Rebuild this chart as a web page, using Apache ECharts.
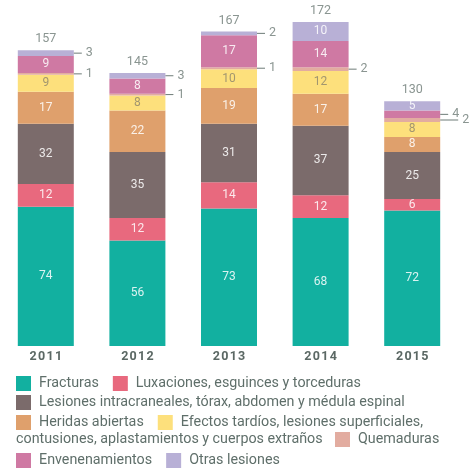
<!DOCTYPE html>
<html>
<head>
<meta charset="utf-8">
<script src="https://cdn.jsdelivr.net/npm/echarts@6/dist/echarts.min.js"></script>
<style>
  html, body { margin: 0; padding: 0; background: #ffffff; }
  #chart { width: 471px; height: 471px; }
</style>
</head>
<body>
<div id="chart"></div>
<script>
// Years on the category axis
const years = ['2011', '2012', '2013', '2014', '2015'];

// Injury counts per year, one array per category (bottom to top of each stack)
const fracturas       = [74, 56, 73, 68, 72];
const luxaciones      = [12, 12, 14, 12, 6];
const lesionesIntra   = [32, 35, 31, 37, 25];
const heridas         = [17, 22, 19, 17, 8];
const efectos         = [9, 8, 10, 12, 8];
const quemaduras      = [1, 1, 1, 2, 2];
const envenenamientos = [9, 8, 17, 14, 4];
const otras           = [3, 3, 2, 10, 5];

// Category names as shown in the legend
const nFracturas = 'Fracturas';
const nLuxaciones = 'Luxaciones, esguinces y torceduras';
const nLesiones = 'Lesiones intracraneales, tórax, abdomen y médula espinal';
const nHeridas = 'Heridas abiertas';
const efectosLinea1 = 'Efectos tardíos, lesiones superficiales,';
const efectosLinea2 = 'contusiones, aplastamientos y cuerpos extraños';
const nEfectos = efectosLinea1 + ' ' + efectosLinea2;
const nQuemaduras = 'Quemaduras';
const nEnvenenamientos = 'Envenenamientos';
const nOtras = 'Otras lesiones';

const FONT = 'Roboto';
const LEGEND_SIZE = 14.3;
const SMALL_LIMIT = 4; // segments this small get their value outside the bar

const stackDefs = [
  { name: nFracturas, data: fracturas, color: '#12b0a0', text: 'rgba(255,255,255,0.85)' },
  { name: nLuxaciones, data: luxaciones, color: '#e8697e', text: 'rgba(255,255,255,0.85)' },
  { name: nLesiones, data: lesionesIntra, color: '#7b6b6b', text: 'rgba(255,255,255,0.85)' },
  { name: nHeridas, data: heridas, color: '#dfa06c', text: 'rgba(255,255,255,0.85)' },
  { name: nEfectos, data: efectos, color: '#fde07c', text: '#a2966f' },
  { name: nQuemaduras, data: quemaduras, color: '#e2aca0', text: 'rgba(255,255,255,0.85)' },
  { name: nEnvenenamientos, data: envenenamientos, color: '#cf79a3', text: 'rgba(255,255,255,0.85)' },
  { name: nOtras, data: otras, color: '#b8b0d6', text: 'rgba(255,255,255,0.85)' }
];

const totals = years.map((_, i) => stackDefs.reduce((s, d) => s + d.data[i], 0));

const outsideRich = {
  l: { width: 8, height: 1, backgroundColor: '#6d7b77' },
  ll: { width: 18, height: 1, backgroundColor: '#6d7b77' },
  v: { padding: [0, 0, 0, 4], color: '#8a9591', fontSize: 12.5, fontFamily: FONT }
};

function buildData(def, si) {
  return def.data.map((v, i) => {
    if (v > SMALL_LIMIT) return v;
    // a longer leader when the segment right above is also labelled outside
    const above = stackDefs[si + 1];
    const longLead = above && above.data[i] <= SMALL_LIMIT;
    return {
      value: v,
      label: {
        position: 'right',
        distance: 0,
        formatter: (longLead ? '{ll|}' : '{l|}') + '{v|' + v + '}',
        rich: outsideRich
      }
    };
  });
}

const barSeries = stackDefs.map((def, si) => ({
  name: def.name,
  type: 'bar',
  stack: 'total',
  barWidth: 56,
  itemStyle: { color: def.color },
  label: {
    show: true,
    position: 'inside',
    color: def.text,
    fontSize: 12,
    fontFamily: FONT
  },
  data: buildData(def, si)
}));

// invisible line carrying the yearly totals above each stack
const totalSeries = {
  name: 'Total',
  type: 'line',
  data: totals,
  symbol: 'circle',
  symbolSize: 1,
  showSymbol: true,
  itemStyle: { color: 'rgba(0,0,0,0)' },
  lineStyle: { width: 0, color: 'rgba(0,0,0,0)' },
  silent: true,
  label: {
    show: true,
    position: 'top',
    distance: 4,
    color: '#8a9591',
    fontSize: 12.5,
    fontFamily: FONT
  },
  z: 5
};

const legendBase = {
  icon: 'rect',
  itemWidth: 15,
  itemHeight: 15,
  itemGap: 14,
  selectedMode: false,
  padding: 0,
  textStyle: { color: '#5f6f6a', fontSize: LEGEND_SIZE, fontFamily: FONT, padding: [0, 0, 0, 3] }
};

const chart = echarts.init(document.getElementById('chart'), null, { renderer: 'canvas' });
chart.setOption({
  animation: false,
  backgroundColor: '#ffffff',
  grid: { left: -2, right: 13, top: 7, bottom: 125, containLabel: false },
  xAxis: {
    type: 'category',
    data: years,
    axisLine: { show: false },
    axisTick: { show: false },
    axisLabel: {
      margin: 4,
      color: '#5b6864',
      fontSize: 12.5,
      fontWeight: 'bold',
      fontFamily: FONT,
      // spread the digits a little
      formatter: v => v.split('').join('\u200A')
    }
  },
  yAxis: { type: 'value', min: 0, max: 180, show: false },
  legend: [
    Object.assign({}, legendBase, { left: 16, top: 376, data: [nFracturas, nLuxaciones] }),
    Object.assign({}, legendBase, { left: 16, top: 395, data: [nLesiones] }),
    Object.assign({}, legendBase, {
      left: 16, top: 415, data: [nHeridas, nEfectos],
      formatter: name => (name === nEfectos ? efectosLinea1 : name)
    }),
    Object.assign({}, legendBase, { left: 335, top: 432, data: [nQuemaduras] }),
    Object.assign({}, legendBase, { left: 16, top: 453, data: [nEnvenenamientos, nOtras] })
  ],
  graphic: [{
    type: 'text',
    left: 16,
    top: 432,
    style: { text: efectosLinea2, fill: '#5f6f6a', fontSize: LEGEND_SIZE, fontFamily: FONT }
  }],
  series: barSeries.concat([totalSeries])
});
</script>
</body>
</html>
